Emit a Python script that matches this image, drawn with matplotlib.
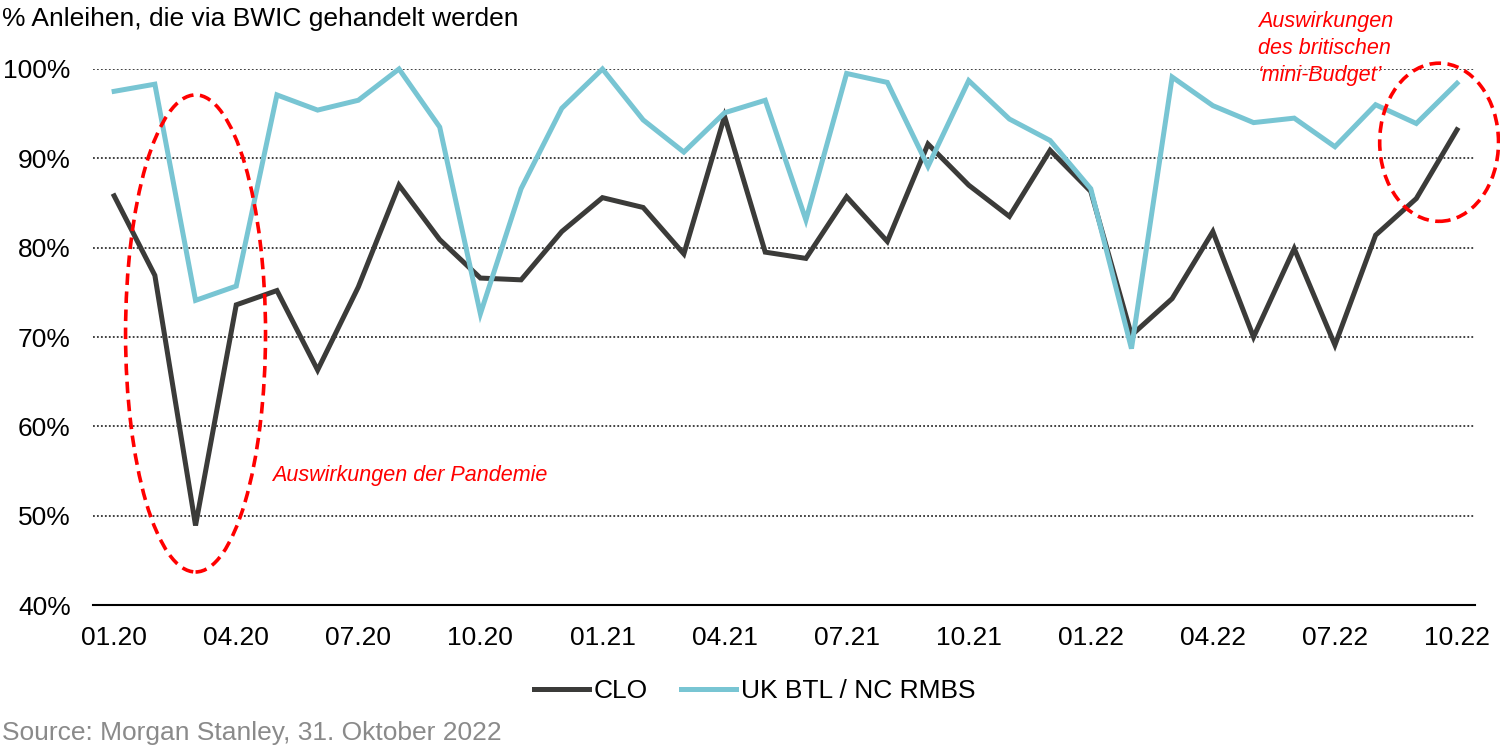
import numpy as np
import matplotlib
matplotlib.use("Agg")
import matplotlib.pyplot as plt
from matplotlib.patches import Ellipse

plt.rcParams['font.family'] = ['Liberation Sans', 'DejaVu Sans']

months = ["01.20", "02.20", "03.20", "04.20", "05.20", "06.20", "07.20", "08.20", "09.20", "10.20",
          "11.20", "12.20", "01.21", "02.21", "03.21", "04.21", "05.21", "06.21", "07.21", "08.21",
          "09.21", "10.21", "11.21", "12.21", "01.22", "02.22", "03.22", "04.22", "05.22", "06.22",
          "07.22", "08.22", "09.22", "10.22"]
clo = [85.8, 76.9, 48.9, 73.6, 75.2, 66.3, 75.6, 87.0, 80.9, 76.6, 76.4, 81.8, 85.6, 84.5, 79.3,
       94.7, 79.5, 78.8, 85.7, 80.7, 91.6, 87.0, 83.5, 90.9, 86.3, 70.2, 74.3, 81.8, 70.0, 79.9,
       69.1, 81.4, 85.5, 93.2]
rmbs = [97.5, 98.3, 74.1, 75.7, 97.1, 95.4, 96.5, 100.0, 93.5, 72.6, 86.6, 95.6, 100.0, 94.3, 90.7,
        95.1, 96.5, 83.1, 99.5, 98.5, 89.1, 98.7, 94.4, 92.0, 86.6, 68.7, 99.1, 95.9, 94.0, 94.5,
        91.3, 96.0, 93.9, 98.4]
yticks = [40, 50, 60, 70, 80, 90, 100]

x = np.arange(len(months))
FS = 19

fig = plt.figure(figsize=(15, 7.5), dpi=100)
ax = fig.add_axes([0.062, 0.1933, 0.921, 0.7147])

ax.plot(x, clo, color='#3b3b39', lw=3.6, label='CLO', clip_on=False, solid_joinstyle='miter', zorder=3)
ax.plot(x, rmbs, color='#78c5d3', lw=3.6, label='UK BTL / NC RMBS', clip_on=False, solid_joinstyle='miter', zorder=4)

ax.set_xlim(-0.52, 33.43)
ax.set_ylim(40, 100)
ax.set_yticks(yticks)
ax.set_yticklabels([f"{v}%" for v in yticks], fontsize=FS)
tick_idx = list(range(0, len(months), 3))
ax.set_xticks(tick_idx)
ax.set_xticklabels([months[i] for i in tick_idx], fontsize=FS)
ax.tick_params(axis='both', length=0)
ax.tick_params(axis='x', pad=15)
ax.tick_params(axis='y', pad=16)

for v in yticks[1:]:
    ax.axhline(v, color='#333333', lw=1.3, ls=(0, (1, 1.2)), zorder=1)
for s in ['top', 'right', 'left']:
    ax.spines[s].set_visible(False)
ax.spines['bottom'].set_linewidth(1.5)
ax.spines['bottom'].set_color('black')

e1 = Ellipse((2.0, 70.4), 3.44, 53.4, fill=False, edgecolor='#ff0000', lw=2.6,
             ls=(0, (3.2, 1.8)), zorder=5, clip_on=False)
e2 = Ellipse((32.56, 91.8), 2.92, 17.7, fill=False, edgecolor='#ff0000', lw=2.6,
             ls=(0, (3.2, 1.8)), zorder=5, clip_on=False)
ax.add_patch(e1)
ax.add_patch(e2)

ax.text(3.89, 54.5, "Auswirkungen der Pandemie", color='#ff0000', fontsize=15.5,
        style='italic', ha='left', va='center')
ax.text(28.1, 102.3, "Auswirkungen\ndes britischen\n\u2018mini-Budget\u2019", color='#ff0000',
        fontsize=15.5, style='italic', ha='left', va='center', linespacing=1.38, clip_on=False)

fig.text(0.0015, 0.975, "% Anleihen, die via BWIC gehandelt werden", fontsize=FS,
         ha='left', va='center', color='black')
fig.text(0.0015, 0.0227, "Source: Morgan Stanley, 31. Oktober 2022", fontsize=FS,
         ha='left', va='center', color='#8a8a8a')

fig.legend(loc='center', bbox_to_anchor=(0.503, 0.078), ncol=2, frameon=False,
           fontsize=FS, handlelength=2.08, handletextpad=0.19, columnspacing=1.25)

fig.savefig("out.png", dpi=100)
